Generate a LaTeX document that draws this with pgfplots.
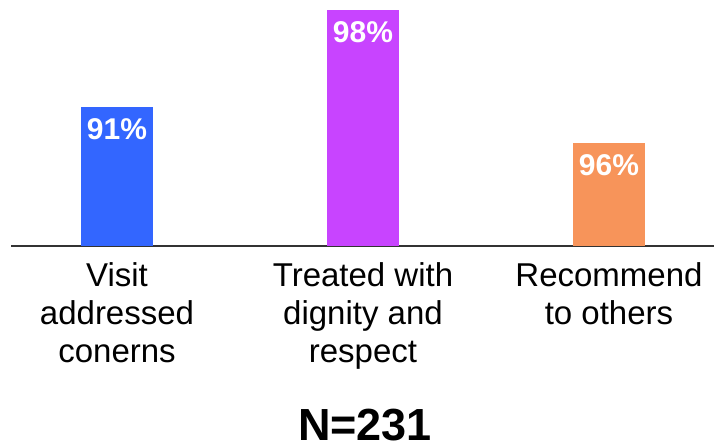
\documentclass[border=0pt]{standalone}
\usepackage{fontspec}
\setmainfont{Liberation Sans}
\usepackage{pgfplots}
\pgfplotsset{compat=1.18}
\definecolor{cblue}{HTML}{3366FF}
\definecolor{cpurple}{HTML}{C844FF}
\definecolor{corange}{HTML}{F7945A}
\definecolor{axisgray}{HTML}{333333}
\begin{document}
\begin{tikzpicture}[x=1bp,y=1bp]
\path[use as bounding box] (0,0) rectangle (714,447);
\begin{axis}[
  at={(11bp,201bp)}, anchor=south west,
  scale only axis, width=703bp, height=236bp,
  xmin=-0.431, xmax=2.427, ymin=0, ymax=236,
  axis x line=bottom, axis y line=none,
  x axis line style={-, draw=axisgray, line width=1.5bp},
  xtick={0,1,2},
  xticklabels={{Visit\\addressed\\conerns},{Treated with\\dignity and\\respect},{Recommend\\to others}},
  xtick style={draw=none},
  xticklabel style={align=center, font=\fontsize{33bp}{38bp}\selectfont, anchor=north, inner sep=0pt, yshift=-12bp},
  ybar, bar width=72bp, bar shift=0pt,
  clip=false,
  point meta=explicit symbolic,
  nodes near coords={\pgfplotspointmeta\%},
  every node near coord/.append style={anchor=north, text=white, font=\bfseries\fontsize{30bp}{30bp}\selectfont, inner sep=0pt, yshift=-11bp},
]
\addplot[draw=none, fill=cblue] coordinates {(0,139) [91]};
\addplot[draw=none, fill=cpurple] coordinates {(1,236) [98]};
\addplot[draw=none, fill=corange] coordinates {(2,103) [96]};
\end{axis}
\node[anchor=base, inner sep=0pt, font=\bfseries\fontsize{45bp}{45bp}\selectfont] at (365,6) {N=231};
\end{tikzpicture}
\end{document}
